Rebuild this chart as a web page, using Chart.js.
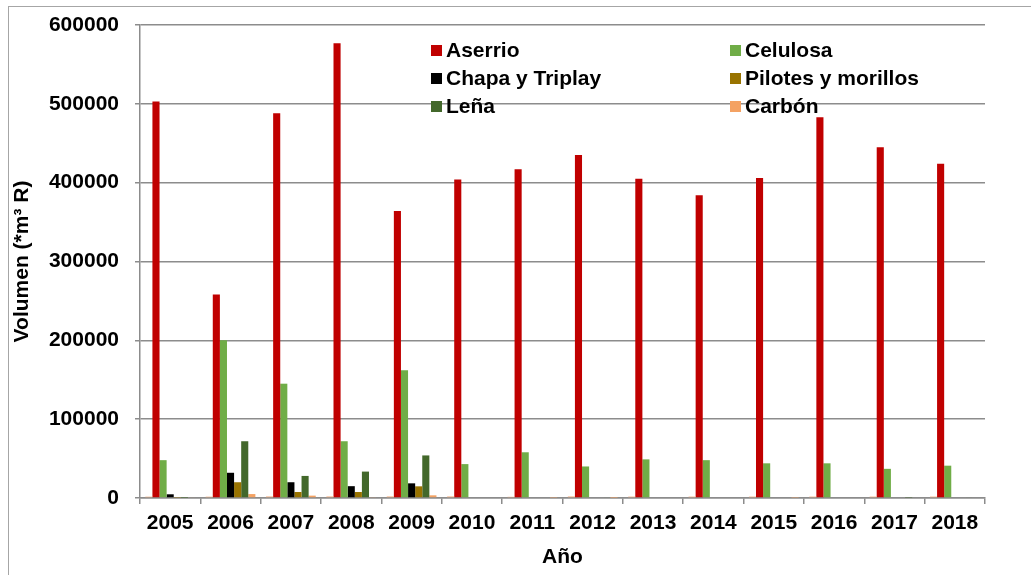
<!DOCTYPE html>
<html>
<head>
<meta charset="utf-8">
<script src="https://cdn.jsdelivr.net/npm/chart.js@4.4.1/dist/chart.umd.min.js"></script>
<style>
    html, body { margin: 0; padding: 0; background: #fff; }
    #wrap { width: 1031px; height: 575px; position: relative; }
</style>
</head>
<body>
<div id="wrap"><canvas id="chart" width="1031" height="575"></canvas></div>
<script>
// Data
const years = ['2005', '2006', '2007', '2008', '2009', '2010', '2011', '2012', '2013', '2014', '2015', '2016', '2017', '2018'];
const yTicks = [0, 100000, 200000, 300000, 400000, 500000, 600000];

const otros = [1700, 1700, 2000, 2000, 2000, 2000, 1500, 2000, 1800, 1800, 1800, 1800, 1800, 1800];
const aserrio = [503000, 258000, 488000, 577000, 364000, 404000, 417000, 435000, 405000, 384000, 406000, 483000, 445000, 424000];
const celulosa = [48000, 200000, 145000, 72000, 162000, 43000, 58000, 40000, 49000, 48000, 44000, 44000, 37000, 41000];
const chapa = [4700, 32000, 20000, 15000, 18600, 0, 0, 0, 0, 0, 0, 0, 0, 0];
const pilotes = [500, 20000, 7600, 7600, 14800, 0, 0, 0, 0, 0, 0, 0, 0, 0];
const lena = [300, 72000, 28000, 33500, 54000, 0, 0, 1000, 0, 0, 0, 0, 500, 1000];
const carbon = [1000, 5000, 3000, 800, 3400, 0, 500, 300, 0, 0, 500, 0, 0, 0];

const FONT = '"Liberation Sans", Arial, sans-serif';
const FSIZE = 21;
const GRID = '#8c8c8c';

function ds(label, data, color) {
    return {
        label: label,
        data: data,
        backgroundColor: color,
        borderWidth: 0,
        barPercentage: 1.0,
        categoryPercentage: 0.8235
    };
}

const datasets = [
    ds('', otros, '#F4B183'),
    ds('Aserrio', aserrio, '#C00000'),
    ds('Celulosa', celulosa, '#70AD47'),
    ds('Chapa y Triplay', chapa, '#000000'),
    ds('Pilotes y morillos', pilotes, '#997300'),
    ds('Leña', lena, '#43682B'),
    ds('Carbón', carbon, '#F4A263')
];

// Frame around the chart area, like the original
const framePlugin = {
    id: 'frame',
    beforeDraw(chart) {
        const ctx = chart.ctx;
        ctx.save();
        ctx.strokeStyle = '#a6a6a6';
        ctx.lineWidth = 1;
        ctx.strokeRect(8.5, 6.5, 1200, 800);
        ctx.restore();
    }
};

// Legend placed inside the plot, two columns
const legendPlugin = {
    id: 'insideLegend',
    afterDatasetsDraw(chart) {
        const ctx = chart.ctx;
        const items = chart.data.datasets.filter(d => d.label !== '');
        const cols = [431, 730];
        const rows = [50, 78, 106];
        ctx.save();
        ctx.font = 'bold ' + FSIZE + 'px ' + FONT;
        ctx.textBaseline = 'middle';
        ctx.textAlign = 'left';
        items.forEach((d, i) => {
            const x = cols[i % 2];
            const y = rows[Math.floor(i / 2)];
            ctx.fillStyle = d.backgroundColor;
            ctx.fillRect(x, y - 5, 11, 11);
            ctx.fillStyle = '#000';
            ctx.fillText(d.label, x + 15, y + 1);
        });
        ctx.restore();
    }
};

new Chart(document.getElementById('chart').getContext('2d'), {
    type: 'bar',
    data: { labels: years, datasets: datasets },
    options: {
        responsive: false,
        animation: false,
        layout: { padding: { top: 25, right: 46, left: 0, bottom: 0 } },
        plugins: {
            legend: { display: false },
            tooltip: { enabled: false }
        },
        scales: {
            x: {
                grid: {
                    offset: true,
                    drawOnChartArea: false,
                    drawTicks: true,
                    tickLength: 6,
                    color: GRID,
                    lineWidth: 1.5
                },
                border: { color: GRID, width: 1.5 },
                ticks: {
                    color: '#000',
                    font: { family: FONT, size: FSIZE, weight: 'bold' },
                    padding: 7,
                    maxRotation: 0,
                    autoSkip: false
                },
                title: {
                    display: true,
                    text: 'Año',
                    color: '#000',
                    font: { family: FONT, size: FSIZE, weight: 'bold' },
                    padding: { top: 4, bottom: 5 }
                },
                afterFit(scale) {
                    scale.height = 77;
                    scale.paddingLeft = 0;
                    scale.paddingRight = 0;
                }
            },
            y: {
                min: 0,
                max: 600000,
                afterBuildTicks(scale) {
                    scale.ticks = yTicks.map(v => ({ value: v }));
                },
                grid: {
                    color: GRID,
                    lineWidth: 1.5,
                    drawTicks: true,
                    tickLength: 5
                },
                border: { color: GRID, width: 1.5 },
                ticks: {
                    color: '#000',
                    font: { family: FONT, size: FSIZE, weight: 'bold' },
                    padding: 16,
                    callback: v => String(v)
                },
                title: {
                    display: true,
                    text: 'Volumen (*m³ R)',
                    color: '#000',
                    font: { family: FONT, size: FSIZE, weight: 'bold' },
                    padding: { top: 10, bottom: 0 }
                },
                afterFit(scale) {
                    scale.width = 140;
                    scale.paddingTop = 0;
                    scale.paddingBottom = 0;
                }
            }
        }
    },
    plugins: [framePlugin, legendPlugin]
});
</script>
</body>
</html>
